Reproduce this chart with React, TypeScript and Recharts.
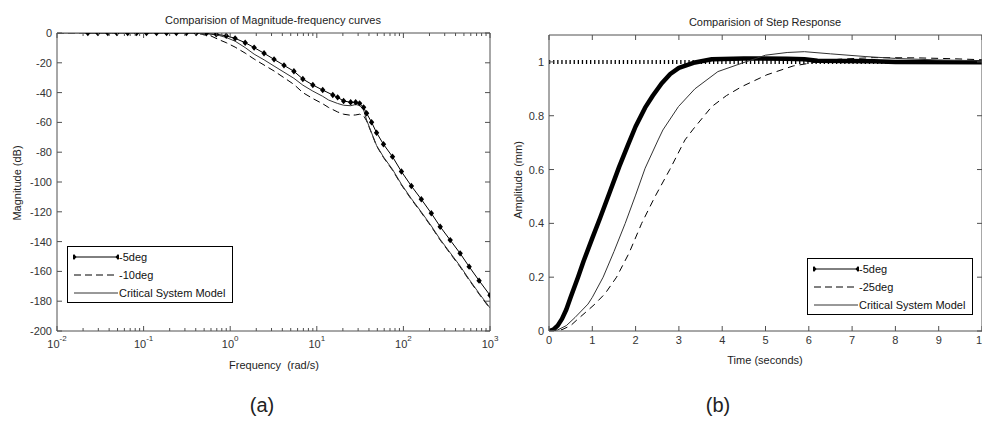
import React from 'react';
import { LineChart, Line, XAxis, YAxis } from 'recharts';

const FONT = '"Liberation Sans", Arial, Helvetica, sans-serif';
const AX = '#505050';
const TX = '#333333';

// ---------- (a) Magnitude-frequency data ----------
const freq5 = [0.0227, 0.0296, 0.0386, 0.049, 0.0655, 0.083, 0.108, 0.141, 0.184, 0.239, 0.312, 0.406, 0.53, 0.69, 0.9, 1.14, 1.49, 1.89, 2.46, 3.21, 4.18, 5.44, 6.9, 9.0, 11.7, 15.3, 17.4, 20.4, 24.6, 28.1, 31.2, 34.7, 37.6, 42.9, 49.0, 58.9, 74.8, 94.9, 123.6, 161, 210, 266, 347, 452, 574, 748, 1000];
const mag5 = [0, 0, 0, 0, 0, 0, 0, 0, 0, 0, 0, 0, -0.2, -0.8, -1.9, -3.6, -6.5, -9.8, -13.6, -17.7, -21.7, -25.7, -30.9, -34.9, -38.3, -41.6, -43.2, -45.6, -46.5, -46.5, -47.2, -49.9, -53.9, -59.9, -66.9, -74.7, -83, -93, -102.7, -111.6, -121, -130, -139, -147.9, -156.8, -166.2, -176];

const freqCrit = [0.01, 0.3, 0.45, 0.6, 0.75, 0.9, 1.14, 1.49, 1.89, 2.46, 3.21, 4.18, 5.44, 6.9, 9.0, 11.7, 13.7, 17.4, 20.4, 24.6, 28.1, 31.2, 34.7, 37.6, 42.9, 49, 58.9, 74.8, 94.9, 123.6, 161, 210, 266, 347, 452, 574, 748, 1000];
const magCrit = [0, 0, -0.3, -0.8, -1.7, -3, -5.5, -9.8, -14.2, -18, -22.2, -26.3, -30.4, -35, -39, -42.5, -45, -47.3, -48.5, -48.8, -48, -48.6, -51.5, -58.4, -67, -75.5, -83.2, -91.5, -101.5, -111.2, -120.1, -129.5, -138.5, -147.5, -156.4, -165.3, -174.7, -184.5];

const freq10 = [0.01, 0.3, 0.4, 0.5, 0.6, 0.75, 0.9, 1.14, 1.49, 1.89, 2.46, 3.21, 4.18, 5.44, 6.9, 9.0, 11.7, 13.7, 17.4, 20.4, 24.6, 28.1, 31.2, 34.7, 37.6, 42.9, 49, 58.9, 74.8, 94.9, 123.6, 161, 210, 266, 347, 452, 574, 748, 1000];
const mag10 = [0, 0, -0.3, -1, -2, -4.6, -6.5, -9.5, -13.5, -17.5, -21.5, -25.5, -30, -34.5, -40, -44, -47.5, -50, -53, -54.5, -55.2, -55, -54.5, -55.5, -59, -67.3, -75.8, -83.6, -92, -102, -111.7, -120.6, -130, -139, -148, -157, -165.8, -175.2, -185];

const freqDecades = [0.01, 0.1, 1, 10, 100, 1000];
const minorSteps = [2, 3, 4, 5, 6, 7, 8, 9];
const magTicks = [0, -20, -40, -60, -80, -100, -120, -140, -160, -180, -200];
const legendA = ['-5deg', '-10deg', 'Critical System Model'];

// ---------- (b) Step response data ----------
const time5 = [0, 0.1, 0.2, 0.3, 0.4, 0.5, 0.67, 0.8, 1.0, 1.18, 1.4, 1.62, 1.82, 2.0, 2.22, 2.4, 2.6, 2.8, 3.0, 3.37, 3.76, 4.5, 5.5, 5.9, 6.2, 7.5, 8.0, 10];
const amp5 = [0, 0.005, 0.02, 0.045, 0.08, 0.125, 0.2, 0.26, 0.345, 0.42, 0.515, 0.61, 0.69, 0.76, 0.83, 0.875, 0.92, 0.955, 0.978, 0.998, 1.01, 1.013, 1.012, 1.01, 1.004, 1.002, 1.0, 0.999];

const timeCrit = [0, 0.2, 0.4, 0.6, 0.9, 1.0, 1.25, 1.5, 1.76, 2.0, 2.22, 2.52, 2.63, 2.99, 3.37, 3.9, 4.45, 5.0, 5.5, 5.9, 6.5, 7.3, 8.0, 9.0, 10];
const ampCrit = [0, 0.004, 0.02, 0.05, 0.1, 0.125, 0.2, 0.295, 0.4, 0.505, 0.605, 0.71, 0.747, 0.834, 0.9, 0.964, 0.995, 1.025, 1.035, 1.038, 1.03, 1.02, 1.013, 1.007, 1.004];

const time25 = [0, 0.3, 0.5, 0.67, 0.85, 1.06, 1.3, 1.56, 1.85, 2.14, 2.45, 2.79, 3.14, 3.33, 3.76, 4.1, 4.45, 5.03, 5.64, 6.2, 6.7, 7.5, 8.5, 9.3, 10];
const amp25 = [0, 0.005, 0.02, 0.045, 0.07, 0.1, 0.14, 0.2, 0.29, 0.4, 0.5, 0.6, 0.71, 0.75, 0.834, 0.875, 0.908, 0.952, 0.985, 1.0, 1.01, 1.016, 1.015, 1.012, 1.008];

const timeFinal = [0, 10];
const ampFinal = [1, 1];

const timeTicks = [0, 1, 2, 3, 4, 5, 6, 7, 8, 9, 10];
const ampTicks = [0, 0.2, 0.4, 0.6, 0.8, 1];
const legendB = ['-5deg', '-25deg', 'Critical System Model'];

// ---------- helpers ----------
const zip = (xs: number[], ys: number[]) => xs.map((x, i) => ({ x, y: ys[i] }));

const freqTicks: number[] = [];
freqDecades.forEach((d, i) => {
  freqTicks.push(d);
  if (i < freqDecades.length - 1) minorSteps.forEach((k) => freqTicks.push(k * d));
});

const isMajor = (v: number) => {
  const lg = Math.log10(v);
  return Math.abs(lg - Math.round(lg)) < 1e-9;
};

const LogTickBottom = (p: any) => {
  const { x, y, payload } = p;
  const v = payload.value;
  const major = isMajor(v);
  const e = Math.round(Math.log10(v));
  return (
    <g>
      <line x1={x} x2={x} y1={y} y2={y - (major ? 5 : 3)} stroke={AX} strokeWidth={1} />
      {major && (
        <text x={x} y={y + 17} textAnchor="middle" fontSize={11} fontFamily={FONT} fill={TX}>
          10<tspan dy={-7} fontSize={8}>{String(e)}</tspan>
        </text>
      )}
    </g>
  );
};

const LogTickTop = (p: any) => {
  const { x, y, payload } = p;
  const major = isMajor(payload.value);
  return <line x1={x} x2={x} y1={y} y2={y + (major ? 5 : 3)} stroke={AX} strokeWidth={1} />;
};

const LinTickBottom = (p: any) => {
  const { x, y, payload } = p;
  return (
    <g>
      <line x1={x} x2={x} y1={y} y2={y - 5} stroke={AX} strokeWidth={1} />
      <text x={x} y={y + 13} textAnchor="middle" fontSize={11} fontFamily={FONT} fill={TX}>
        {String(payload.value)}
      </text>
    </g>
  );
};

const LinTickTop = (p: any) => {
  const { x, y } = p;
  return <line x1={x} x2={x} y1={y} y2={y + 5} stroke={AX} strokeWidth={1} />;
};

const YTickLeft = (p: any) => {
  const { x, y, payload } = p;
  return (
    <g>
      <line x1={x} x2={x + 5} y1={y} y2={y} stroke={AX} strokeWidth={1} />
      <text x={x - 5} y={y + 4} textAnchor="end" fontSize={11} fontFamily={FONT} fill={TX}>
        {String(payload.value)}
      </text>
    </g>
  );
};

const YTickRight = (p: any) => {
  const { x, y } = p;
  return <line x1={x} x2={x - 5} y1={y} y2={y} stroke={AX} strokeWidth={1} />;
};

const Diamond = (p: any) => {
  const { cx, cy, index } = p;
  if (cx == null || cy == null) return <g key={index} />;
  return <path key={index} d={`M${cx},${cy - 3.2}L${cx + 2.7},${cy}L${cx},${cy + 3.2}L${cx - 2.7},${cy}Z`} fill="#000" />;
};

const Label = ({ x, y, text, size = 11, rotate = false }: any) => (
  <div
    style={{
      position: 'absolute',
      left: x,
      top: y,
      transform: `translate(-50%, -50%)${rotate ? ' rotate(-90deg)' : ''}`,
      fontFamily: FONT,
      fontSize: size,
      color: '#222',
      whiteSpace: 'pre',
      lineHeight: 1,
    }}
  >
    {text}
  </div>
);

const LegendBox = ({ left, top, names }: any) => (
  <div
    style={{
      position: 'absolute',
      left,
      top,
      width: 166,
      height: 57,
      border: '1px solid #000',
      boxSizing: 'border-box',
      background: '#fff',
      fontFamily: FONT,
      fontSize: 11,
      color: '#111',
    }}
  >
    {names.map((n: string, i: number) => {
      const cy = 10 + i * 18;
      return (
        <React.Fragment key={i}>
          <svg style={{ position: 'absolute', left: 5, top: cy - 5 }} width={46} height={10}>
            <line
              x1={1}
              x2={45}
              y1={5}
              y2={5}
              stroke={i === 2 ? '#333' : '#000'}
              strokeWidth={1}
              strokeDasharray={i === 1 ? '7 4' : undefined}
            />
            {i === 0 && <path d="M1,2L3.5,5L1,8L-1.5,5Z M45,2L47.5,5L45,8L42.5,5Z" fill="#000" />}
          </svg>
          <span style={{ position: 'absolute', left: 51, top: cy - 6, lineHeight: '12px', whiteSpace: 'nowrap' }}>{n}</span>
        </React.Fragment>
      );
    })}
  </div>
);

export default function App() {
  const d5 = zip(freq5, mag5);
  const dCrit = zip(freqCrit, magCrit);
  const d10 = zip(freq10, mag10);
  const s5 = zip(time5, amp5);
  const sCrit = zip(timeCrit, ampCrit);
  const s25 = zip(time25, amp25);
  const sFinal = zip(timeFinal, ampFinal);

  return (
    <div style={{ position: 'absolute', left: 0, top: 0, width: 982, height: 423, overflow: 'hidden', background: '#fff' }}>
      {/* (a) */}
      <div style={{ position: 'absolute', left: 0, top: 0 }}>
        <LineChart width={520} height={423} margin={{ top: 32, right: 0, bottom: 52, left: 0 }}>
          <XAxis dataKey="x" type="number" scale="log" domain={[0.01, 1000]} allowDataOverflow ticks={freqTicks} interval={0}
            tickSize={0} tickMargin={0} tickLine={false} axisLine={{ stroke: AX }} height={40} tick={LogTickBottom} />
          <XAxis xAxisId="top" orientation="top" dataKey="x" type="number" scale="log" domain={[0.01, 1000]} allowDataOverflow
            ticks={freqTicks} interval={0} tickSize={0} tickMargin={0} tickLine={false} axisLine={{ stroke: AX }} height={1} tick={LogTickTop} />
          <YAxis type="number" domain={[-200, 0]} allowDataOverflow ticks={magTicks} interval={0} width={57}
            tickSize={0} tickMargin={0} tickLine={false} axisLine={{ stroke: AX }} tick={YTickLeft} />
          <YAxis yAxisId="right" orientation="right" type="number" domain={[-200, 0]} allowDataOverflow ticks={magTicks} interval={0} width={30}
            tickSize={0} tickMargin={0} tickLine={false} axisLine={{ stroke: AX }} tick={YTickRight} />
          <Line data={d10} dataKey="y" stroke="#000" strokeWidth={1} strokeDasharray="7 4" dot={false} isAnimationActive={false} />
          <Line data={dCrit} dataKey="y" stroke="#333" strokeWidth={1} dot={false} isAnimationActive={false} />
          <Line data={d5} dataKey="y" stroke="#000" strokeWidth={1} dot={Diamond} isAnimationActive={false} />
        </LineChart>
      </div>

      {/* (b) */}
      <div style={{ position: 'absolute', left: 491, top: 0 }}>
        <LineChart width={520} height={423} margin={{ top: 34, right: 0, bottom: 52, left: 0 }}>
          <XAxis dataKey="x" type="number" domain={[0, 10]} allowDataOverflow ticks={timeTicks} interval={0}
            tickSize={0} tickMargin={0} tickLine={false} axisLine={{ stroke: AX }} height={40} tick={LinTickBottom} />
          <XAxis xAxisId="top" orientation="top" dataKey="x" type="number" domain={[0, 10]} allowDataOverflow ticks={timeTicks} interval={0}
            tickSize={0} tickMargin={0} tickLine={false} axisLine={{ stroke: AX }} height={1} tick={LinTickTop} />
          <YAxis type="number" domain={[0, 1.1]} allowDataOverflow ticks={ampTicks} interval={0} width={58}
            tickSize={0} tickMargin={0} tickLine={false} axisLine={{ stroke: AX }} tick={YTickLeft} />
          <YAxis yAxisId="right" orientation="right" type="number" domain={[0, 1.1]} allowDataOverflow ticks={ampTicks} interval={0} width={29}
            tickSize={0} tickMargin={0} tickLine={false} axisLine={{ stroke: AX }} tick={YTickRight} />
          <Line data={sFinal} dataKey="y" stroke="#000" strokeWidth={4} strokeDasharray="1.3 2.8" dot={false} isAnimationActive={false} />
          <Line data={s5} dataKey="y" stroke="#000" strokeWidth={4.5} strokeLinecap="round" strokeLinejoin="round" dot={false} isAnimationActive={false} />
          <Line data={s25} dataKey="y" stroke="#000" strokeWidth={1} strokeDasharray="7 5" dot={false} isAnimationActive={false} />
          <Line data={sCrit} dataKey="y" stroke="#333" strokeWidth={1} dot={false} isAnimationActive={false} />
        </LineChart>
      </div>

      <Label x={273} y={20} text="Comparision of Magnitude-frequency curves" />
      <Label x={765} y={22} text="Comparision of Step Response" />
      <Label x={274} y={365} text="Frequency  (rad/s)" />
      <Label x={765} y={360} text="Time (seconds)" />
      <Label x={17} y={183} text="Magnitude (dB)" rotate />
      <Label x={518} y={180} text="Amplitude (mm)" rotate />
      <Label x={262} y={405} text="(a)" size={20} />
      <Label x={718} y={405} text="(b)" size={20} />

      <LegendBox left={67} top={246} names={legendA} />
      <LegendBox left={807} top={258} names={legendB} />
    </div>
  );
}
